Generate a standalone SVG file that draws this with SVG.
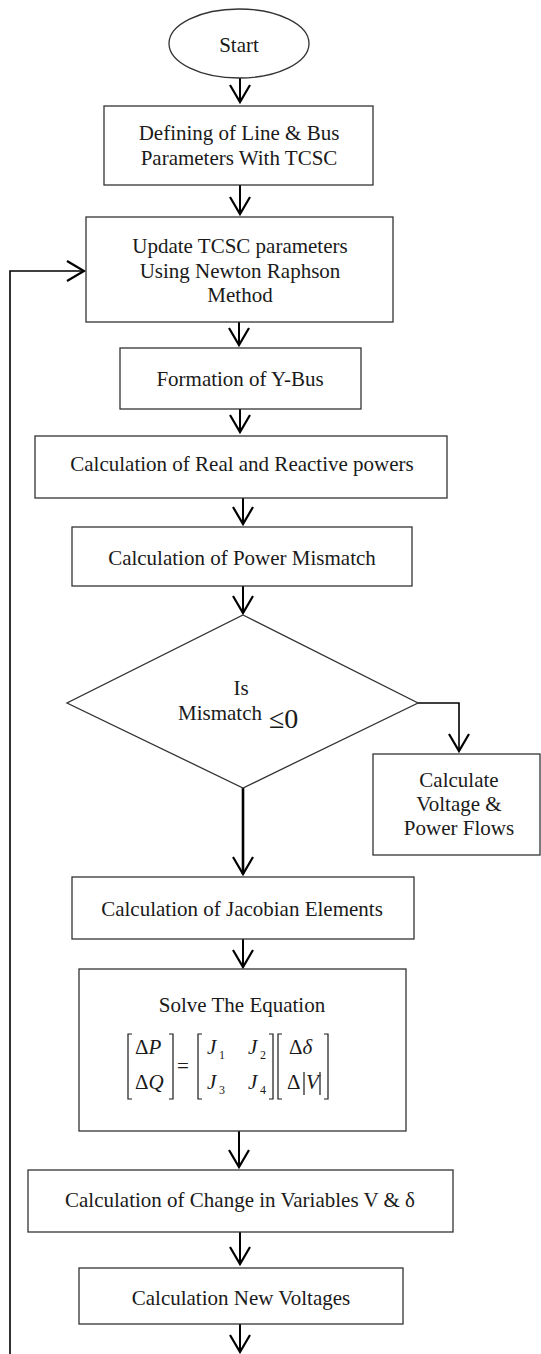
<svg xmlns="http://www.w3.org/2000/svg" width="541" height="1354" viewBox="0 0 541 1354">
<defs>
<style>
.box{fill:#fff;stroke:#333;stroke-width:1.3}
.t{font-family:"Liberation Serif","Times New Roman",serif;font-size:21px;fill:#1a1a1a;text-anchor:middle}
.tl{font-family:"Liberation Serif","Times New Roman",serif;font-size:21px;fill:#1a1a1a}
.sub{font-family:"Liberation Serif","Times New Roman",serif;font-size:12px;fill:#1a1a1a}
.it{font-style:italic}
.c{fill:none;stroke:#000;stroke-width:2}
.br{fill:none;stroke:#1a1a1a;stroke-width:1.2}
</style>
<marker id="ah" markerUnits="userSpaceOnUse" viewBox="-20 -12 24 24" markerWidth="24" markerHeight="24" refX="0" refY="0" orient="auto" overflow="visible">
<path d="M-17,-10 L0,0 L-17,10" fill="none" stroke="#000" stroke-width="2.2"/>
</marker>
</defs>
<rect width="541" height="1354" fill="#fff"/>

<g id="connectors">
<line class="c" x1="240" y1="78" x2="240" y2="102" marker-end="url(#ah)"/>
<line class="c" x1="240" y1="185" x2="240" y2="214" marker-end="url(#ah)"/>
<line class="c" x1="239" y1="322" x2="239" y2="345" marker-end="url(#ah)"/>
<line class="c" x1="240" y1="409" x2="240" y2="432" marker-end="url(#ah)"/>
<line class="c" x1="243" y1="498" x2="243" y2="524" marker-end="url(#ah)"/>
<line class="c" x1="243" y1="586" x2="243" y2="613" marker-end="url(#ah)"/>
<polyline class="c" points="418,703 459,703 459,751" style="stroke-width:1.6" marker-end="url(#ah)"/>
<line class="c" x1="243" y1="788" x2="243" y2="874" style="stroke-width:2.6" marker-end="url(#ah)"/>
<line class="c" x1="243" y1="939" x2="243" y2="967" marker-end="url(#ah)"/>
<line class="c" x1="239" y1="1131" x2="239" y2="1167" marker-end="url(#ah)"/>
<line class="c" x1="240" y1="1232" x2="240" y2="1264" marker-end="url(#ah)"/>
<line class="c" x1="240" y1="1324" x2="240" y2="1352" marker-end="url(#ah)"/>
<polyline class="c" points="10,1354 10,271 84,271" style="stroke-width:1.6" marker-end="url(#ah)"/>
</g>

<g id="start">
<ellipse class="box" cx="239" cy="43.5" rx="70" ry="34.5"/>
<text class="t" x="239" y="52">Start</text>
</g>

<g id="define">
<rect class="box" x="104" y="106" width="269" height="79"/>
<text class="t" x="239" y="140">Defining of Line &amp; Bus</text>
<text class="t" x="239" y="165">Parameters With TCSC</text>
</g>

<g id="update">
<rect class="box" x="86" y="217" width="307" height="105"/>
<text class="t" x="240" y="253">Update TCSC parameters</text>
<text class="t" x="240" y="278">Using Newton Raphson</text>
<text class="t" x="240" y="302">Method</text>
</g>

<g id="ybus">
<rect class="box" x="120" y="348" width="241" height="61"/>
<text class="t" x="240" y="386">Formation of Y-Bus</text>
</g>

<g id="powers">
<rect class="box" x="35" y="436" width="412" height="62"/>
<text class="t" x="242" y="471">Calculation of Real and Reactive powers</text>
</g>

<g id="mismatch">
<rect class="box" x="72" y="527" width="340" height="59"/>
<text class="t" x="242" y="565">Calculation of Power Mismatch</text>
</g>

<g id="decision">
<polygon class="box" points="243,615 418,703 243,788 67,703"/>
<text class="t" x="241" y="695">Is</text>
<text class="tl" x="178" y="720">Mismatch</text>
<text class="tl" x="269" y="728" style="font-size:28px">≤0</text>
</g>

<g id="flows">
<rect class="box" x="373" y="754" width="167" height="101"/>
<text class="t" x="459" y="787">Calculate</text>
<text class="t" x="459" y="811">Voltage &amp;</text>
<text class="t" x="459" y="835">Power Flows</text>
</g>

<g id="jacobian">
<rect class="box" x="72" y="877" width="342" height="62"/>
<text class="t" x="242" y="916">Calculation of Jacobian Elements</text>
</g>

<g id="solve">
<rect class="box" x="79" y="969" width="327" height="162"/>
<text class="t" x="242" y="1012">Solve The Equation</text>
<path class="br" d="M132,1034 H128 V1099 H132 M169,1034 H173 V1099 H169"/>
<path class="br" d="M202,1034 H198 V1099 H202 M269,1034 H273 V1099 H269"/>
<path class="br" d="M282,1034 H278 V1099 H282 M324,1034 H328 V1099 H324"/>
<text class="tl" x="135" y="1054">Δ<tspan class="it">P</tspan></text>
<text class="tl" x="135" y="1089">Δ<tspan class="it">Q</tspan></text>
<text class="tl" x="177" y="1073">=</text>
<text class="tl it" x="207" y="1054">J</text><text class="sub" x="219" y="1059">1</text>
<text class="tl it" x="248" y="1054">J</text><text class="sub" x="260" y="1059">2</text>
<text class="tl it" x="207" y="1089">J</text><text class="sub" x="219" y="1094">3</text>
<text class="tl it" x="248" y="1089">J</text><text class="sub" x="260" y="1094">4</text>
<text class="tl" x="289" y="1054">Δ<tspan class="it">δ</tspan></text>
<text class="tl" x="287" y="1089">Δ</text>
<text class="tl it" x="306" y="1089">V</text>
<line class="br" x1="304" y1="1072" x2="304" y2="1095"/>
<line class="br" x1="320" y1="1072" x2="320" y2="1095"/>
</g>

<g id="change">
<rect class="box" x="28" y="1170" width="425" height="62"/>
<text class="t" x="240" y="1207">Calculation of Change in Variables V &amp; δ</text>
</g>

<g id="newv">
<rect class="box" x="79" y="1268" width="324" height="56"/>
<text class="t" x="241" y="1305">Calculation New Voltages</text>
</g>
</svg>
